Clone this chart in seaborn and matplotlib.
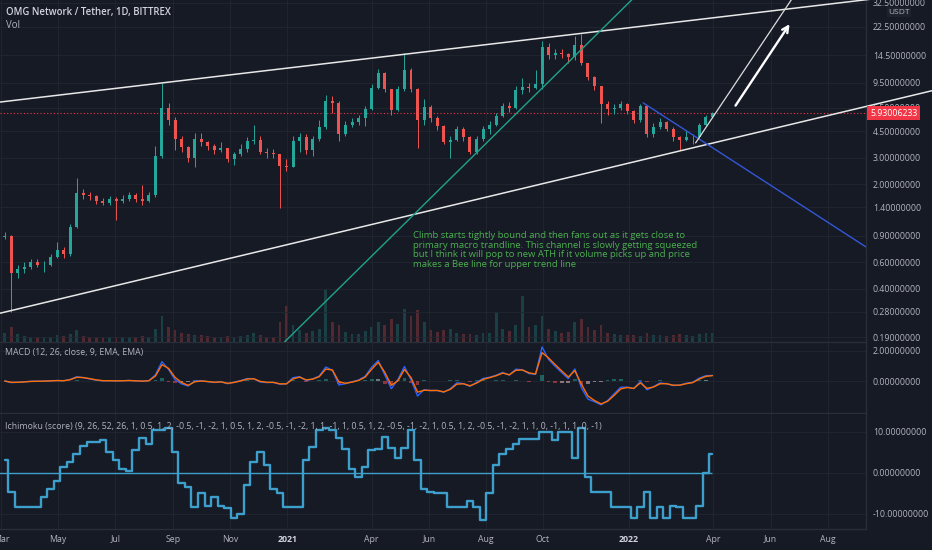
import numpy as np
import pandas as pd
import matplotlib
matplotlib.use("Agg")
import matplotlib.pyplot as plt
import seaborn as sns

# ================= DATA (weekly candles) =================
FIRST_WEEK = "2020-03-02"
FIRST_OPEN = 0.88
LAST_PRICE = 5.93006233

close = [0.90, 0.51, 0.54, 0.56, 0.60, 0.58, 0.58, 0.65, 0.72, 0.68,
         1.03, 1.75, 1.70, 1.66, 1.55, 1.50, 1.58, 1.55, 1.60, 1.68,
         1.60, 1.55, 1.68, 3.10, 6.50, 5.40, 4.00, 3.55, 3.00, 4.00,
         3.80, 3.60, 3.40, 3.50, 2.95, 3.20, 3.45, 3.90, 3.95, 3.30,
         3.25, 3.20, 2.65, 2.60, 3.90, 4.10, 3.40, 4.00, 4.80, 7.20,
         7.00, 4.30, 5.00, 5.20, 5.50, 6.40, 8.80, 11.0, 8.60, 6.30,
         8.60, 11.5, 8.70, 5.40, 6.60, 5.50, 4.90, 3.80, 3.95, 4.70,
         4.10, 3.30, 4.00, 4.70, 5.00, 5.70, 6.70, 6.50, 8.50, 8.90,
         8.80, 9.30, 16.5, 14.6, 15.0, 14.8, 14.2, 17.0, 12.8, 10.4,
         9.00, 6.90, 6.40, 6.50, 6.90, 6.20, 5.40, 6.70, 4.30, 4.80,
         5.20, 4.70, 4.10, 3.95, 4.10, 4.10, 5.00, 5.60, 5.93]

high = [0.96, 0.92, 0.58, 0.60, 0.63, 0.63, 0.61, 0.68, 0.82, 0.76,
        1.08, 2.20, 1.86, 1.78, 1.68, 1.62, 1.66, 1.65, 1.68, 1.78,
        1.74, 1.97, 1.78, 3.60, 9.50, 7.00, 5.60, 4.20, 3.60, 4.40,
        4.40, 3.90, 3.70, 3.80, 3.50, 3.30, 3.70, 4.10, 5.00, 4.20,
        3.50, 3.45, 3.20, 2.95, 4.20, 4.40, 4.30, 4.20, 5.40, 7.90,
        7.80, 7.20, 5.30, 5.50, 5.80, 6.70, 9.30, 11.8, 11.2, 8.70,
        9.00, 15.1, 12.0, 8.80, 7.40, 6.80, 5.70, 5.00, 4.20, 4.90,
        4.80, 4.20, 4.20, 4.90, 5.30, 6.00, 7.00, 7.10, 9.00, 10.2,
        9.50, 11.6, 18.2, 17.5, 16.0, 16.0, 15.0, 19.5, 20.0, 12.8,
        10.5, 9.10, 7.20, 6.90, 7.20, 7.00, 6.30, 6.90, 6.80, 5.10,
        5.50, 5.30, 4.80, 4.20, 4.60, 4.30, 5.10, 5.80, 6.10]

low = [0.86, 0.28, 0.47, 0.51, 0.54, 0.56, 0.52, 0.57, 0.64, 0.64,
       0.66, 1.02, 1.58, 1.57, 1.48, 1.44, 1.46, 1.15, 1.50, 1.55,
       1.52, 1.44, 1.52, 1.64, 3.00, 5.00, 3.40, 3.30, 2.80, 2.60,
       3.60, 3.40, 3.20, 3.30, 2.80, 2.70, 3.10, 3.30, 3.70, 3.20,
       3.00, 3.00, 1.39, 2.45, 2.60, 3.30, 3.20, 3.10, 3.90, 4.70,
       6.00, 3.90, 4.20, 4.80, 5.00, 4.90, 6.30, 8.60, 8.20, 5.80,
       6.20, 8.40, 8.20, 3.50, 5.00, 5.20, 4.60, 3.70, 3.00, 3.90,
       3.90, 3.20, 3.20, 3.90, 4.30, 4.90, 5.60, 6.10, 6.40, 8.00,
       8.20, 8.60, 8.70, 13.8, 13.8, 13.9, 12.8, 13.5, 12.5, 9.90,
       8.50, 5.10, 5.80, 5.90, 6.30, 5.90, 5.10, 5.20, 4.10, 4.10,
       4.70, 4.50, 3.90, 3.40, 3.90, 3.70, 4.00, 4.90, 5.50]

volume = [14, 22, 12, 9, 8, 8, 7, 8, 10, 9,
          12, 18, 9, 8, 7, 7, 7, 8, 7, 8,
          7, 9, 8, 20, 40, 22, 18, 14, 12, 11,
          10, 9, 8, 8, 9, 8, 9, 10, 14, 10,
          8, 8, 30, 55, 25, 18, 14, 16, 20, 80,
          30, 25, 15, 12, 12, 16, 22, 30, 25, 35,
          28, 50, 40, 48, 30, 18, 15, 18, 20, 14,
          12, 12, 11, 13, 14, 45, 20, 16, 25, 70,
          22, 25, 40, 20, 16, 14, 15, 30, 35, 22,
          18, 25, 14, 12, 11, 10, 10, 9, 14, 11,
          10, 9, 10, 12, 10, 9, 12, 14, 13]

ichimoku_score = [3, -4.6, -8.3, -8.3, -8.3, -8.3, -6, -4, -2, 1.5,
                  2.5, 4.6, 6.5, 7.5, 7.5, 8, 5, 3, 1, 0.5,
                  5.5, 8.5, 7, 10.5, 10.5, 11, 5, -2.6, -3.5, -8.3,
                  -5, -8, -6, -8, -8.5, -11, -10, -3, 2.5, 5,
                  2, -4, -5, -8.3, -8.3, -8.3, 3, 6.3, 10.5, 11,
                  10.5, 8.5, 5.7, 1, -1, 1.5, 5.5, 5.7, 8.8, 6,
                  3.5, 6, 10.5, 3, -4, -4.6, -5, -5, -8.3, -8.3,
                  -8.3, -7, -8.3, -11.5, -5, 2, 4.6, 5.7, 7, 8.2,
                  8.2, 8.2, 10, 10, 8, 10, 10, 3.5, 11, -1,
                  -4.6, -4.6, -4.6, -8.3, -8.3, -8.3, -11, -8.3, -4.6, -11,
                  -8.3, -11, -8, -8.3, -11, -11, -8, 0, 4.6]

price_ticks = [32.5, 22.5, 14.5, 9.5, 6.5, 4.5, 3.0, 2.0, 1.4, 0.9, 0.6, 0.4, 0.28, 0.19]
macd_ticks = [2.0, 0.0]
ichi_ticks = [10.0, 0.0, -10.0]
date_ticks = ["2020-03-01", "2020-05-01", "2020-07-01", "2020-09-01", "2020-11-01",
              "2021-01-01", "2021-04-01", "2021-06-01", "2021-08-01", "2021-10-01",
              "2022-01-01", "2022-04-01", "2022-06-01", "2022-08-01"]
date_labels = ["Mar", "May", "Jul", "Sep", "Nov", "2021", "Apr", "Jun", "Aug", "Oct",
               "2022", "Apr", "Jun", "Aug"]

# hand drawn trendlines: two anchor points (date, price)
upper_channel = [("2020-03-01", 7.08), ("2021-07-11", 16.5)]
lower_channel = [("2020-03-01", 0.275), ("2021-07-11", 1.52)]
teal_support = [("2021-01-11", 0.212), ("2021-07-11", 2.77)]
blue_down = [("2022-01-16", 6.98), ("2022-09-11", 0.76)]
white_ray = [("2022-03-13", 3.77), ("2022-06-21", 32.5)]
arrow_tail = ("2022-04-23", 6.46)
arrow_head = ("2022-06-23", 24.3)

NOTE = ("Climb starts tightly bound and then fans out as it gets close to\n"
        "primary macro trandline. This channel is slowly getting squeezed\n"
        "but I think it will pop to new ATH if it volume picks up and price\n"
        "makes a Bee line for upper trend line")
NOTE_AT = ("2021-05-15", 0.97)

# ================= STYLE =================
BG = "#161a25"
GRID = "#222632"
SEP = "#2a2e39"
TXT = "#b2b5be"
UP, DOWN = "#26a69a", "#ef5350"

sns.set_theme(style="dark")
plt.rcParams["font.family"] = ["Open Sans", "DejaVu Sans"]
plt.rcParams["axes.facecolor"] = BG
plt.rcParams["figure.facecolor"] = BG

W, H = 932, 550
fig = plt.figure(figsize=(W / 100, H / 100), dpi=100)


def box(top, bottom, right=866):
    return [0, 1 - bottom / H, right / W, (bottom - top) / H]


ax = fig.add_axes(box(0, 342))
axm = fig.add_axes(box(343, 413), sharex=ax)
axi = fig.add_axes(box(414, 529), sharex=ax)

weeks = pd.date_range(FIRST_WEEK, periods=len(close), freq="7D")
centers = weeks + pd.Timedelta(days=3)
c = np.array(close)
o = np.array([FIRST_OPEN] + close[:-1])
colors = [UP if cc >= oo else DOWN for cc, oo in zip(c, o)]

# ---- volume (behind candles) ----
axv = ax.twinx()
axv.set_zorder(0)
ax.set_zorder(1)
ax.patch.set_alpha(0)
axv.bar(centers, volume, width=3, color=colors, alpha=0.28, linewidth=0)
axv.set_ylim(0, 518)
axv.axis("off")

# ---- candles ----
ax.vlines(centers, low, high, color=colors, lw=0.7, zorder=3)
ax.bar(centers, np.abs(c - o), bottom=np.minimum(c, o), width=3.2, color=colors,
       linewidth=0, zorder=4)
ax.set_yscale("log")
ax.set_ylim(0.176, 34.0)
ax.set_xlim(pd.Timestamp("2020-02-29"), pd.Timestamp("2022-09-11"))


def extend(pts, d_from, d_to):
    (d1, p1), (d2, p2) = pts
    t1, t2 = pd.Timestamp(d1), pd.Timestamp(d2)
    slope = (np.log10(p2) - np.log10(p1)) / (t2 - t1).days
    out_d, out_p = [], []
    for d in (d_from, d_to):
        t = pd.Timestamp(d)
        out_d.append(t)
        out_p.append(10 ** (np.log10(p1) + slope * (t - t1).days))
    return out_d, out_p


main_clip = matplotlib.transforms.TransformedBbox(
    matplotlib.transforms.Bbox([[0, 1 - 342 / H], [1, 1]]), fig.transFigure)
for pts in (upper_channel, lower_channel):
    d, p = extend(pts, "2020-02-20", "2022-11-25")
    ln, = ax.plot(d, p, color="#e8e8e8", lw=1.1, clip_on=False, zorder=5)
    ln.set_clip_box(main_clip)

d, p = extend(teal_support, "2020-12-01", "2022-02-01")
ax.plot(d, p, color="#1fa38b", lw=1.0, zorder=5)
d, p = extend(blue_down, blue_down[0][0], "2022-09-11")
ax.plot(d, p, color="#3357d6", lw=1.0, zorder=5)
d, p = extend(white_ray, white_ray[0][0], "2022-07-10")
ax.plot(d, p, color="#dddddd", lw=0.9, zorder=5)
ax.annotate("", xy=(pd.Timestamp(arrow_head[0]), arrow_head[1]),
            xytext=(pd.Timestamp(arrow_tail[0]), arrow_tail[1]),
            arrowprops=dict(arrowstyle="->", color="white", lw=1.7, mutation_scale=11),
            zorder=6)
ax.axhline(LAST_PRICE, color="#f23645", lw=0.8, ls=(0, (1, 2)), zorder=2)

ax.text(pd.Timestamp(NOTE_AT[0]), NOTE_AT[1], NOTE, color="#4caf50", fontsize=6.8,
        va="top", ha="left", linespacing=1.08, zorder=6)

# ---- MACD (12, 26, 9 on daily bars -> weekly equivalent smoothing) ----
s = pd.Series(close)
fast = s.ewm(alpha=1 - (1 - 2 / 13) ** 7, adjust=False).mean()
slow = s.ewm(alpha=1 - (1 - 2 / 27) ** 7, adjust=False).mean()
macd = fast - slow
signal = macd.ewm(alpha=1 - (1 - 2 / 10) ** 7, adjust=False).mean()
hist = macd - signal
hcol = []
for i, h in enumerate(hist):
    prev = hist.iloc[i - 1] if i else 0
    if h >= 0:
        hcol.append("#26a69a" if h >= prev else "#b2dfdb")
    else:
        hcol.append("#ff5252" if h < prev else "#ffcdd2")
axm.bar(centers, hist, width=4, color=hcol, alpha=0.5, linewidth=0)
sns.lineplot(x=centers, y=macd.values, ax=axm, color="#2962ff", lw=1.0)
sns.lineplot(x=centers, y=signal.values, ax=axm, color="#ff6d00", lw=1.0)
axm.set_ylim(-2.133, 2.533)

# ---- Ichimoku score ----
sns.lineplot(x=centers, y=ichimoku_score, ax=axi, color="#3d9fcb", lw=1.7,
             drawstyle="steps-mid")
axi.hlines(0, centers[0] - pd.Timedelta(days=6), centers[-1], color="#3d9fcb", lw=1.0)
axi.set_ylim(-13.7, 14.3)

# ---- axes cosmetics ----
for a, ticks in ((ax, price_ticks), (axm, macd_ticks), (axi, ichi_ticks)):
    a.yaxis.tick_right()
    a.set_yticks(ticks)
    a.set_yticklabels([f"{t:.8f}" for t in ticks])
    a.minorticks_off()
    a.tick_params(axis="y", length=0, pad=5, labelsize=6.3, labelcolor=TXT)
    a.tick_params(axis="x", length=0)
    a.set_xlabel("")
    a.set_ylabel("")
    a.grid(True, color=GRID, lw=0.6)
    a.set_axisbelow(True)
    for side in ("left", "top"):
        a.spines[side].set_visible(False)
    for side in ("right", "bottom"):
        a.spines[side].set_visible(True)
        a.spines[side].set_color(SEP)
        a.spines[side].set_linewidth(1.0)
    if a.get_legend():
        a.get_legend().remove()

plt.setp(ax.get_xticklabels(), visible=False)
plt.setp(axm.get_xticklabels(), visible=False)
axi.set_xticks(pd.to_datetime(date_ticks))
axi.set_xticklabels(date_labels)
axi.tick_params(axis="x", pad=4, labelsize=6.3, labelcolor=TXT)
for lbl in axi.get_xticklabels():
    if lbl.get_text() in ("2021", "2022"):
        lbl.set_fontweight("bold")
        lbl.set_color("#d1d4dc")

# ---- pane labels ----
fig.text(6 / W, 1 - 12 / H, "OMG Network / Tether, 1D, BITTREX", color="#d1d4dc",
         fontsize=6.9, fontweight="semibold", va="center")
fig.text(6 / W, 1 - 25 / H, "Vol", color=TXT, fontsize=6.9, va="center")
fig.text(5 / W, 1 - 352 / H, "MACD (12, 26, close, 9, EMA, EMA)", color=TXT,
         fontsize=6.3, va="center")
fig.text(5 / W, 1 - 427 / H,
         "Ichimoku (score) (9, 26, 52, 26, 1, 0.5, 1, 2, -0.5, -1, -2, 1, 0.5, 1, 2, "
         "-0.5, -1, -2, 1, 1, -1, 1, 0.5, 1, 2, -0.5, -1, -2, 1, 0.5, 1, 2, -0.5, -1, "
         "-2, 1, 1, 0, -1, 1, 1, 0, -1)", color=TXT, fontsize=6.3, va="center")
fig.text(899 / W, 1 - 12 / H, "USDT", color=TXT, fontsize=6.0, ha="center", va="center",
         bbox=dict(boxstyle="square,pad=0.2", fc="#1e222d", ec="none"))
fig.text(870 / W, 1 - 113 / H, f"{LAST_PRICE:.8f}", color="white", fontsize=6.3,
         va="center", ha="left",
         bbox=dict(boxstyle="square,pad=0.3", fc="#f23645", ec="none"))

fig.savefig("out.png", dpi=100, facecolor=BG)
